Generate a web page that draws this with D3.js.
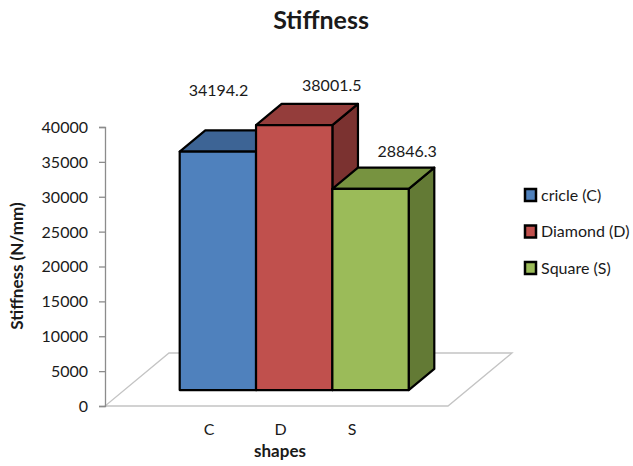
<!DOCTYPE html>
<html>
<head>
<meta charset="utf-8">
<script src="https://cdn.jsdelivr.net/npm/d3@7/dist/d3.min.js"></script>
<style>
  html, body { margin: 0; padding: 0; background: #fff; }
  text { font-family: Lato, "Open Sans", sans-serif; fill: #1a1a1a; }
</style>
</head>
<body>
<svg id="chart" width="633" height="466"></svg>
<script>
// ---- data ----
const categories = ["C", "D", "S"];
const seriesNames = ["cricle (C)", "Diamond (D)", "Square (S)"];
const values = [34194.2, 38001.5, 28846.3];
const valueLabels = ["34194.2", "38001.5", "28846.3"];
const yTicks = [0, 5000, 10000, 15000, 20000, 25000, 30000, 35000, 40000];

// ---- styles / layout ----
const frontColors = ["#4F81BD", "#C0504D", "#9BBB59"];
const topColors   = ["#3D6495", "#943D3B", "#779340"];
const sideColors  = ["#34577F", "#7B3230", "#637A35"];
const labelNudge  = [[-25, -34], [12, -13], [11, -11]];

const svg = d3.select("#chart");

const y = d3.scaleLinear().domain([0, 40000]).range([406, 127]);
const floorX = [105, 448];
const depth = { dx: 64, dy: -53 };
const d0 = 0.3, d1 = 0.7;
const xBar = d3.scaleBand().domain(seriesNames).range([160.5, 389.5]).paddingInner(0);
const xCat = d3.scalePoint().domain(categories).range([209, 352]);

// floor
const fl = [
  [floorX[0], y(0)], [floorX[1], y(0)],
  [floorX[1] + depth.dx, y(0) + depth.dy], [floorX[0] + depth.dx, y(0) + depth.dy]
];
svg.append("path")
  .attr("d", "M" + fl.map(p => p.join(",")).join("L") + "Z")
  .attr("fill", "none").attr("stroke", "#c4c4c4").attr("stroke-width", 1.3);

// y axis
const yAxis = d3.axisLeft(y).tickValues(yTicks).tickSize(6).tickPadding(11).tickFormat(d3.format("d"));
const ga = svg.append("g").attr("transform", `translate(${floorX[0]},0)`).call(yAxis);
ga.select(".domain").attr("stroke", "#8c8c8c").attr("stroke-width", 1.3);
ga.selectAll(".tick line").attr("stroke", "#8c8c8c").attr("stroke-width", 1.3);
ga.selectAll(".tick text").attr("font-family", "Lato, sans-serif").attr("font-size", 16).attr("fill", "#1a1a1a").attr("dy", "0.34em");

// bars
const fx = depth.dx * d0, fy = depth.dy * d0;
const bx = depth.dx * (d1 - d0), by = depth.dy * (d1 - d0);
values.forEach((v, i) => {
  const x0 = xBar(seriesNames[i]) + fx, x1 = x0 + xBar.bandwidth();
  const yb = y(0) + fy, yt = y(v) + fy;
  const g = svg.append("g").attr("stroke", "#000").attr("stroke-width", 2.2).attr("stroke-linejoin", "round");
  g.append("path").attr("fill", sideColors[i])
    .attr("d", `M${x1},${yt}L${x1 + bx},${yt + by}L${x1 + bx},${yb + by}L${x1},${yb}Z`);
  g.append("path").attr("fill", topColors[i])
    .attr("d", `M${x0},${yt}L${x0 + bx},${yt + by}L${x1 + bx},${yt + by}L${x1},${yt}Z`);
  g.append("rect").attr("fill", frontColors[i])
    .attr("x", x0).attr("y", yt).attr("width", x1 - x0).attr("height", yb - yt);
  // value label
  svg.append("text")
    .attr("x", (x0 + x1) / 2 + bx + labelNudge[i][0])
    .attr("y", yt + by + labelNudge[i][1])
    .attr("text-anchor", "middle").attr("font-size", 16)
    .text(valueLabels[i]);
});

// category labels
svg.selectAll(".cat").data(categories).enter().append("text")
  .attr("x", d => xCat(d)).attr("y", 435)
  .attr("text-anchor", "middle").attr("font-size", 16).text(d => d);

// titles
svg.append("text").attr("x", 321).attr("y", 29).attr("text-anchor", "middle")
  .attr("font-size", 25).attr("font-weight", "bold").text("Stiffness");
svg.append("text").attr("x", 280).attr("y", 457).attr("text-anchor", "middle")
  .attr("font-size", 17).attr("font-weight", "bold").text("shapes");
svg.append("text").attr("transform", "translate(23,266) rotate(-90)").attr("text-anchor", "middle")
  .attr("font-size", 17).attr("font-weight", "bold").text("Stiffness (N/mm)");

// legend
const leg = svg.append("g");
const ly = d3.scalePoint().domain(seriesNames).range([195, 268]);
seriesNames.forEach((s, i) => {
  leg.append("rect").attr("x", 525).attr("y", ly(s) - 6).attr("width", 11).attr("height", 12)
    .attr("fill", frontColors[i]).attr("stroke", "#000").attr("stroke-width", 2.5);
  leg.append("text").attr("x", 541).attr("y", ly(s)).attr("dy", "0.36em")
    .attr("font-size", 16).text(s);
});
</script>
</body>
</html>
